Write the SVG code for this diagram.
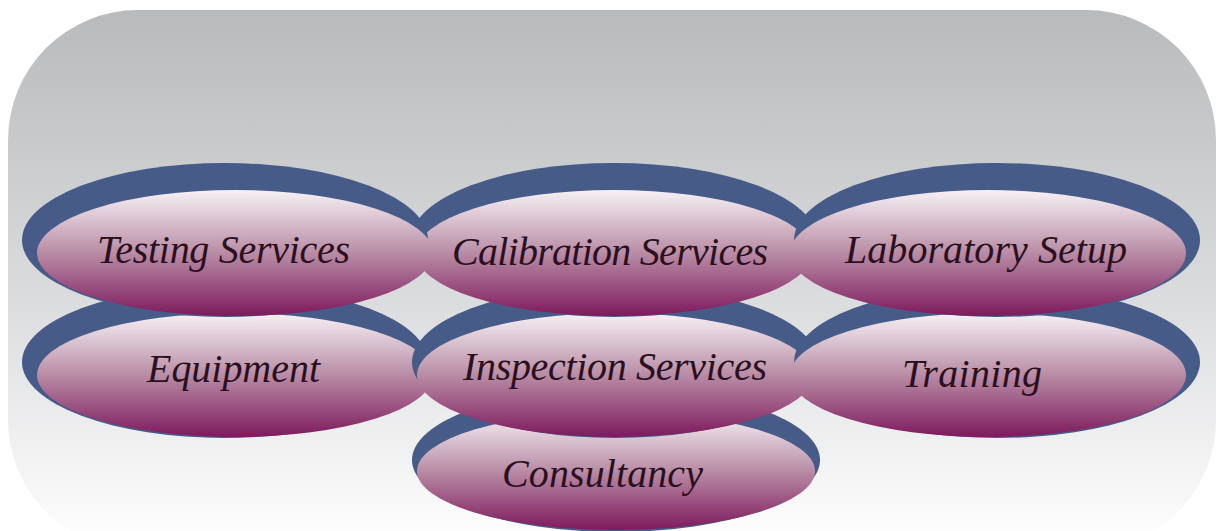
<svg xmlns="http://www.w3.org/2000/svg" width="1217" height="531" viewBox="0 0 1217 531">
  <defs>
    <linearGradient id="bg" x1="0" y1="0" x2="0" y2="1">
      <stop offset="0" stop-color="#b9babc"/>
      <stop offset="0.55" stop-color="#dcdddf"/>
      <stop offset="1" stop-color="#ffffff"/>
    </linearGradient>
    <linearGradient id="pink" x1="0" y1="0" x2="0" y2="1">
      <stop offset="0" stop-color="#f7f1f5"/>
      <stop offset="0.45" stop-color="#bf97ad"/>
      <stop offset="1" stop-color="#7e1a5d"/>
    </linearGradient>
  </defs>
  <style>
    .back { fill: #465b87; }
    .front { fill: url(#pink); }
    .lbl { font-family: "Liberation Serif", "DejaVu Serif", serif; font-style: italic; font-size: 40px; fill: #2b1020; }
  </style>
  <rect x="8" y="10" width="1208" height="540" rx="130" ry="130" fill="url(#bg)"/>
  <g id="connectors"/>
  <g id="node-consultancy">
    <ellipse class="back" cx="616" cy="460" rx="204" ry="72"/>
    <ellipse class="front" cx="616" cy="471" rx="199" ry="59"/>
    <text class="lbl" x="502" y="487" textLength="201" lengthAdjust="spacing">Consultancy</text>
  </g>
  <g id="node-equipment">
    <ellipse class="back" cx="225" cy="362" rx="203" ry="76"/>
    <ellipse class="front" cx="235" cy="375" rx="198" ry="62"/>
    <text class="lbl" x="147" y="382" textLength="173" lengthAdjust="spacing">Equipment</text>
  </g>
  <g id="node-inspection">
    <ellipse class="back" cx="615" cy="362" rx="203" ry="76"/>
    <ellipse class="front" cx="615" cy="375" rx="198" ry="62"/>
    <text class="lbl" x="463" y="380" textLength="304" lengthAdjust="spacing">Inspection Services</text>
  </g>
  <g id="node-training">
    <ellipse class="back" cx="997" cy="362" rx="203" ry="76"/>
    <ellipse class="front" cx="988" cy="375" rx="198" ry="62"/>
    <text class="lbl" x="902" y="387" textLength="140" lengthAdjust="spacing">Training</text>
  </g>
  <g id="node-calibration">
    <ellipse class="back" cx="614" cy="240" rx="203" ry="77"/>
    <ellipse class="front" cx="614" cy="253" rx="198" ry="63"/>
    <text class="lbl" x="452" y="265" textLength="316" lengthAdjust="spacing">Calibration Services</text>
  </g>
  <g id="node-testing">
    <ellipse class="back" cx="225" cy="240" rx="203" ry="77"/>
    <ellipse class="front" cx="235" cy="253" rx="198" ry="63"/>
    <text class="lbl" x="97" y="263" textLength="253" lengthAdjust="spacing">Testing Services</text>
  </g>
  <g id="node-laboratory">
    <ellipse class="back" cx="997" cy="240" rx="203" ry="77"/>
    <ellipse class="front" cx="988" cy="253" rx="198" ry="63"/>
    <text class="lbl" x="845" y="263" textLength="282" lengthAdjust="spacing">Laboratory Setup</text>
  </g>
</svg>
